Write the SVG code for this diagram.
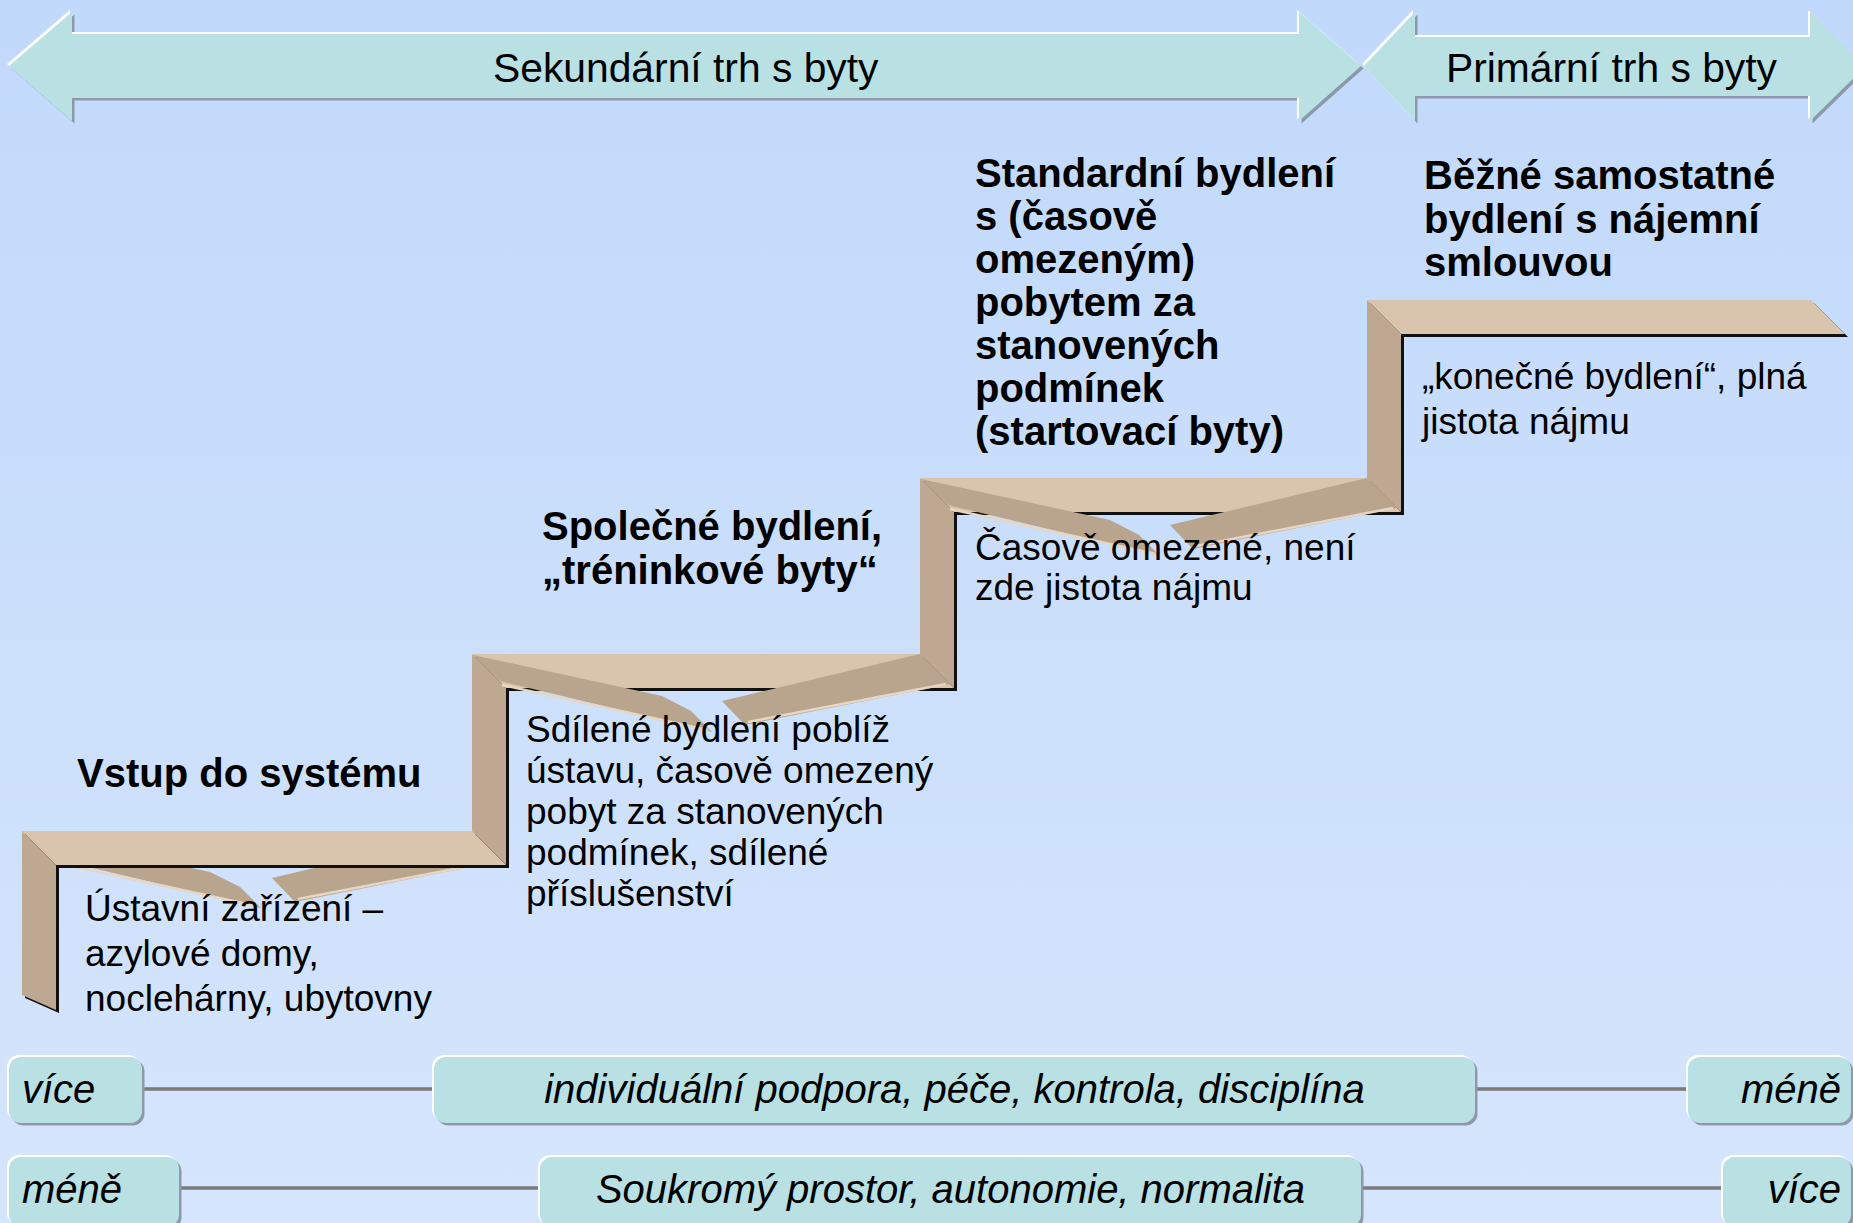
<svg xmlns="http://www.w3.org/2000/svg" width="1853" height="1223" viewBox="0 0 1853 1223">
<defs>
<linearGradient id="bg" x1="0" y1="0" x2="0" y2="1">
<stop offset="0" stop-color="#C1D9FB"/>
<stop offset="1" stop-color="#D5E5FC"/>
</linearGradient>
<polygon id="arrSec" points="9,66 72,12 72,34 1299,34 1299,12 1361,66 1299,121 1299,98 72,98 72,121"/>
<polygon id="arrPri" points="1364,66 1415,12 1415,37 1810,37 1810,12 1866,66 1810,121 1810,96 1415,96 1415,121"/>
</defs>
<style>
.sh{fill:#8D99A8}
.hi{fill:#FFFFFF}
.bx{fill:#B9E0E3}
.tread{fill:#D9C4AD}
.riser{fill:#BEA892}
.strip{fill:#B9A48E}
.strl{fill:none;stroke:#E6D6C4;stroke-width:2.5}
.t{font-family:"Liberation Sans",Arial,Helvetica,sans-serif;fill:#000}
.big{font-size:40.8px}
.bold{font-size:40px;font-weight:bold}
.reg{font-size:37px}
.it{font-size:40px;font-style:italic}
.conn{stroke:#7A7A7A;stroke-width:3.5;fill:none}
</style>
<rect x="0" y="0" width="1853" height="1223" fill="url(#bg)"/>

<g id="arrow-secondary">
<use href="#arrSec" class="sh" transform="translate(2.5,2.5)"/>
<use href="#arrSec" class="hi" transform="translate(-2,-2)"/>
<use href="#arrSec" class="bx"/>
<text class="t big" x="493" y="82">Sekundární trh s byty</text>
</g>
<g id="arrow-primary">
<use href="#arrPri" class="sh" transform="translate(2.5,2.5)"/>
<use href="#arrPri" class="hi" transform="translate(-2,-2)"/>
<use href="#arrPri" class="bx"/>
<text class="t big" x="1446" y="82">Primární trh s byty</text>
</g>

<g id="staircase">
<g id="step1-strips">
<polygon class="strip" points="23,832 210,872 240,887 261,908 50,858"/>
<polyline class="strl" points="52,862 257,906"/>
<polygon class="strip" points="470,831 272,878 295,902 500,861"/>
<polyline class="strl" points="298,899 496,861"/>
</g>
<polygon fill="#111" transform="translate(3,3)" points="22,995 22,831 472,831 472,654 920,654 920,478 1367,478 1367,300 1811,300 1845,334 1401,334 1401,512 954,512 954,688 506,688 506,865 56,865 56,1010"/>
<g id="step1">
<polygon class="riser" points="22,831 56,865 56,1010 22,995"/>
<polygon class="tread" points="22,831 472,831 506,865 56,865"/>
</g>
<g id="step2">
<polygon class="riser" points="472,654 506,688 506,865 472,831"/>
<polygon class="tread" points="472,654 920,654 954,688 506,688"/>
<polygon class="strip" points="473,655 662,696 691,711 712,732 500,681"/>
<polyline class="strl" points="502,685 708,730"/>
<polygon class="strip" points="920,654 722,701 745,725 950,684"/>
<polyline class="strl" points="748,722 946,684"/>
</g>
<g id="step3">
<polygon class="riser" points="920,478 954,512 954,688 920,654"/>
<polygon class="tread" points="920,478 1367,478 1401,512 954,512"/>
<polygon class="strip" points="921,479 1110,520 1139,535 1160,556 948,505"/>
<polyline class="strl" points="950,509 1156,554"/>
<polygon class="strip" points="1367,478 1170,525 1193,549 1397,508"/>
<polyline class="strl" points="1196,546 1393,508"/>
</g>
<g id="step4">
<polygon class="riser" points="1367,300 1401,334 1401,512 1367,478"/>
<polygon class="tread" points="1367,300 1811,300 1845,334 1401,334"/>
</g>
</g>

<g id="text-step1">
<text class="t bold" x="77" y="787">Vstup do systému</text>
<text class="t reg" x="85"><tspan x="85" y="921">Ústavní zařízení –</tspan><tspan x="85" y="966">azylové domy,</tspan><tspan x="85" y="1011">noclehárny, ubytovny</tspan></text>
</g>
<g id="text-step2">
<text class="t bold" x="542"><tspan x="542" y="540">Společné bydlení,</tspan><tspan x="542" y="584">„tréninkové byty“</tspan></text>
<text class="t reg" x="526"><tspan x="526" y="742">Sdílené bydlení poblíž</tspan><tspan x="526" y="783">ústavu, časově omezený</tspan><tspan x="526" y="824">pobyt za stanovených</tspan><tspan x="526" y="865">podmínek, sdílené</tspan><tspan x="526" y="906">příslušenství</tspan></text>
</g>
<g id="text-step3">
<text class="t bold" x="975"><tspan x="975" y="187">Standardní bydlení</tspan><tspan x="975" y="230">s (časově</tspan><tspan x="975" y="273">omezeným)</tspan><tspan x="975" y="316">pobytem za</tspan><tspan x="975" y="359">stanovených</tspan><tspan x="975" y="402">podmínek</tspan><tspan x="975" y="445">(startovací byty)</tspan></text>
<text class="t reg" x="975"><tspan x="975" y="560">Časově omezené, není</tspan><tspan x="975" y="600">zde jistota nájmu</tspan></text>
</g>
<g id="text-step4">
<text class="t bold" x="1424"><tspan x="1424" y="189">Běžné samostatné</tspan><tspan x="1424" y="233">bydlení s nájemní</tspan><tspan x="1424" y="276">smlouvou</tspan></text>
<text class="t reg" x="1422"><tspan x="1422" y="389">„konečné bydlení“, plná</tspan><tspan x="1422" y="434">jistota nájmu</tspan></text>
</g>

<g id="connectors">
<line class="conn" x1="142" y1="1089" x2="434" y2="1089"/>
<line class="conn" x1="1475" y1="1089" x2="1688" y2="1089"/>
<line class="conn" x1="179" y1="1188" x2="540" y2="1188"/>
<line class="conn" x1="1361" y1="1188" x2="1723" y2="1188"/>
</g>

<g id="box-vice-1">
<rect class="sh" x="11.5" y="1059.5" width="133" height="66" rx="12"/>
<rect class="hi" x="7" y="1055" width="133" height="66" rx="12"/>
<rect class="bx" x="9" y="1057" width="133" height="66" rx="12"/>
<text class="t it" x="22" y="1103">více</text>
</g>
<g id="box-podpora">
<rect class="sh" x="436.5" y="1059.5" width="1041" height="66" rx="12"/>
<rect class="hi" x="432" y="1055" width="1041" height="66" rx="12"/>
<rect class="bx" x="434" y="1057" width="1041" height="66" rx="12"/>
<text class="t it" x="954.5" y="1103" text-anchor="middle">individuální podpora, péče, kontrola, disciplína</text>
</g>
<g id="box-mene-1">
<rect class="sh" x="1690.5" y="1059.5" width="163" height="66" rx="12"/>
<rect class="hi" x="1686" y="1055" width="163" height="66" rx="12"/>
<rect class="bx" x="1688" y="1057" width="163" height="66" rx="12"/>
<text class="t it" x="1841" y="1103" text-anchor="end">méně</text>
</g>
<g id="box-mene-2">
<rect class="sh" x="11.5" y="1159.5" width="170" height="70" rx="12"/>
<rect class="hi" x="7" y="1155" width="170" height="70" rx="12"/>
<rect class="bx" x="9" y="1157" width="170" height="70" rx="12"/>
<text class="t it" x="22" y="1203">méně</text>
</g>
<g id="box-soukromy">
<rect class="sh" x="542.5" y="1159.5" width="821" height="70" rx="12"/>
<rect class="hi" x="538" y="1155" width="821" height="70" rx="12"/>
<rect class="bx" x="540" y="1157" width="821" height="70" rx="12"/>
<text class="t it" x="950.5" y="1203" text-anchor="middle">Soukromý prostor, autonomie, normalita</text>
</g>
<g id="box-vice-2">
<rect class="sh" x="1725.5" y="1159.5" width="128" height="70" rx="12"/>
<rect class="hi" x="1721" y="1155" width="128" height="70" rx="12"/>
<rect class="bx" x="1723" y="1157" width="128" height="70" rx="12"/>
<text class="t it" x="1841" y="1203" text-anchor="end">více</text>
</g>
</svg>
